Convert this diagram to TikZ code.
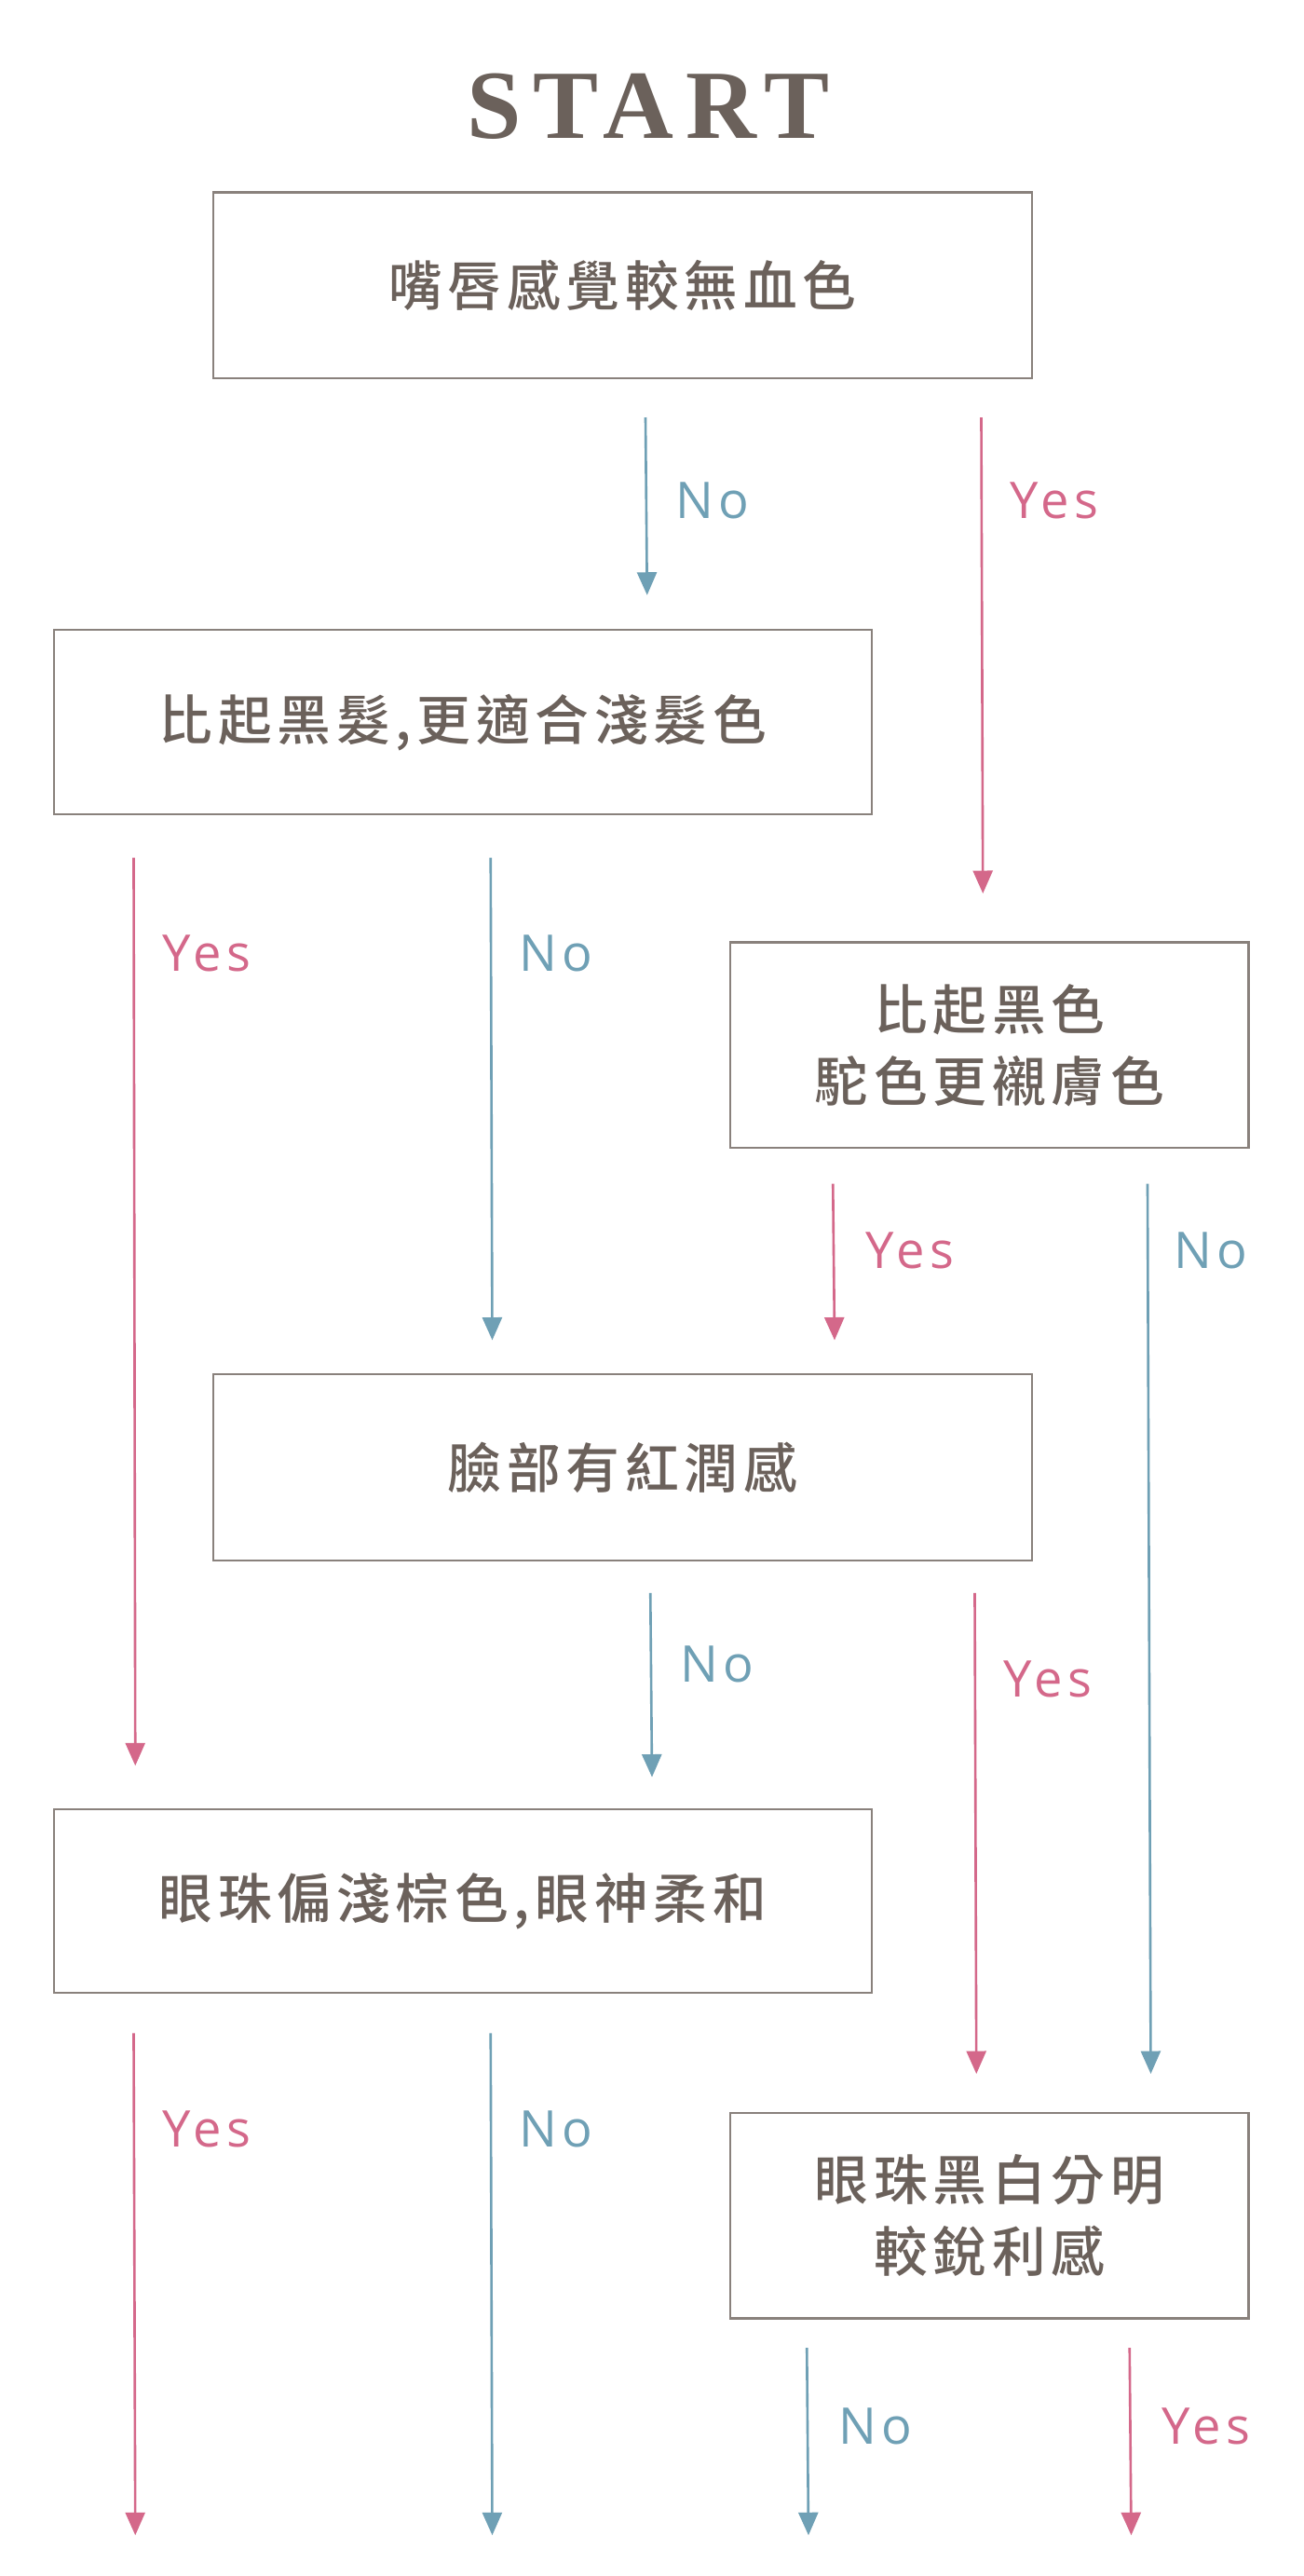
\documentclass[tikz,border=0pt]{standalone}
\usepackage{fontspec}
\newfontfamily\cjk{Noto Sans CJK TC Medium}[LetterSpace=10]
\newfontfamily\lab{Open Sans}[LetterSpace=10]
\newfontfamily\titlef{Liberation Serif}[LetterSpace=12]
\usetikzlibrary{arrows.meta}
\definecolor{txt}{HTML}{6B615B}
\definecolor{pk}{HTML}{D4688A}
\definecolor{bl}{HTML}{6FA0B5}
\begin{document}
\begin{tikzpicture}[x=1pt,y=-1pt,
  qbox/.style={draw=txt!80,line width=1.2pt,inner sep=0pt,font=\cjk\fontsize{33}{44}\selectfont,text=txt,align=center},
  yarr/.style={draw=pk,line width=1.5pt,-{Triangle[length=14pt,width=12pt]}},
  narr/.style={draw=bl,line width=1.5pt,-{Triangle[length=14pt,width=12pt]}},
  ylab/.style={text=pk,font=\lab\fontsize{31}{31}\selectfont},
  nlab/.style={text=bl,font=\lab\fontsize{31}{31}\selectfont}]
\useasboundingbox[fill=white] (0,0) rectangle (800,1580);
\node[text=txt,font=\titlef\bfseries\fontsize{60}{60}\selectfont] (start) at (398,65) {START};
\node[qbox,minimum width=502pt,minimum height=114pt] (b1) at (382,175) {嘴唇感覺較無血色};
\node[qbox,minimum width=502pt,minimum height=113pt] (b2) at (284,443) {比起黑髮,更適合淺髮色};
\node[qbox,minimum width=318pt,minimum height=126pt] (b3) at (607,641) {比起黑色\\駝色更襯膚色};
\node[qbox,minimum width=502pt,minimum height=114pt] (b4) at (382,900) {臉部有紅潤感};
\node[qbox,minimum width=502pt,minimum height=113pt] (b5) at (284,1166) {眼珠偏淺棕色,眼神柔和};
\node[qbox,minimum width=318pt,minimum height=126pt] (b6) at (607,1359) {眼珠黑白分明\\較銳利感};
\coordinate (a1s) at (396,256); \coordinate (a1e) at (397,365);
\coordinate (a2s) at (602,256); \coordinate (a2e) at (603,548);
\coordinate (a3s) at (82,526); \coordinate (a3e) at (83,1083);
\coordinate (a4s) at (301,526); \coordinate (a4e) at (302,822);
\coordinate (a5s) at (511,726); \coordinate (a5e) at (512,822);
\coordinate (a6s) at (704,726); \coordinate (a6e) at (706,1272);
\coordinate (a7s) at (399,977); \coordinate (a7e) at (400,1090);
\coordinate (a8s) at (598,977); \coordinate (a8e) at (599,1272);
\coordinate (a9s) at (82,1247); \coordinate (a9e) at (83,1555);
\coordinate (a10s) at (301,1247); \coordinate (a10e) at (302,1555);
\coordinate (a11s) at (495,1440); \coordinate (a11e) at (496,1555);
\coordinate (a12s) at (693,1440); \coordinate (a12e) at (694,1555);
\draw[narr] (a1s) -- (a1e); \node[nlab] (l1) at (437,307) {No};
\draw[yarr] (a2s) -- (a2e); \node[ylab] (l2) at (647,307) {Yes};
\draw[yarr] (a3s) -- (a3e); \node[ylab] (l3) at (127,585) {Yes};
\draw[narr] (a4s) -- (a4e); \node[nlab] (l4) at (341,585) {No};
\draw[yarr] (a5s) -- (a5e); \node[ylab] (l5) at (558,767) {Yes};
\draw[narr] (a6s) -- (a6e); \node[nlab] (l6) at (743,767) {No};
\draw[narr] (a7s) -- (a7e); \node[nlab] (l7) at (440,1021) {No};
\draw[yarr] (a8s) -- (a8e); \node[ylab] (l8) at (643,1030) {Yes};
\draw[yarr] (a9s) -- (a9e); \node[ylab] (l9) at (127,1306) {Yes};
\draw[narr] (a10s) -- (a10e); \node[nlab] (l10) at (341,1306) {No};
\draw[narr] (a11s) -- (a11e); \node[nlab] (l11) at (537,1488) {No};
\draw[yarr] (a12s) -- (a12e); \node[ylab] (l12) at (740,1488) {Yes};
\end{tikzpicture}
\end{document}
